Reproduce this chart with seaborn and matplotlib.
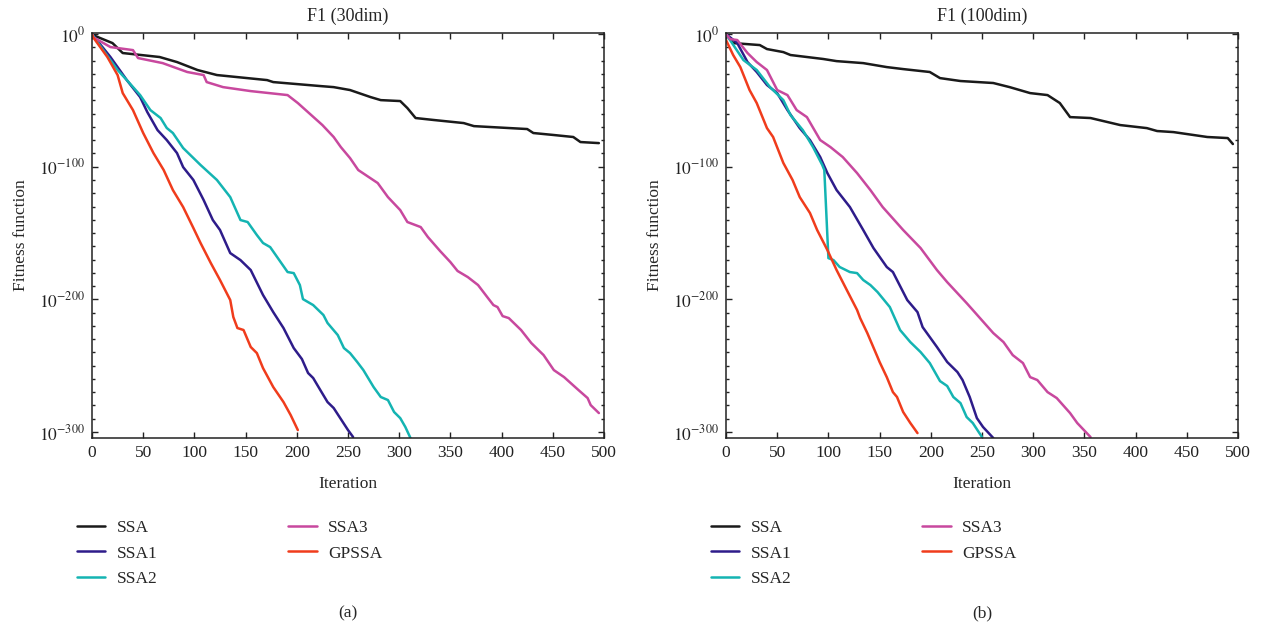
import matplotlib
matplotlib.use("Agg")
import matplotlib.pyplot as plt
import numpy as np
import pandas as pd
import seaborn as sns
from matplotlib.ticker import FixedLocator, NullFormatter

# convergence curves as (iteration, log10 fitness)
algorithms = ["SSA", "SSA1", "SSA2", "SSA3", "GPSSA"]
colors = ["#1a1a1a", "#2e1c8a", "#14b4b2", "#c8489e", "#f03c1c"]

# ---- (a) F1, 30 dim ----
ssa_30_it = [0, 1, 20, 30, 66, 83, 103, 122, 171, 177, 223, 236, 252, 272, 282, 301,
             308, 316, 334, 363, 373, 425, 431, 451, 470, 477, 495]
ssa_30_lg = [0, -0.8, -6.8, -14.3, -17.3, -21.1, -27.1, -30.9, -34.7, -36.2, -39.2, -40,
             -42.2, -47.5, -49.8, -50.5, -55.8, -63.3, -64.8, -67.1, -69.4, -71.6, -74.6,
             -76.1, -77.6, -81.4, -82.2]
ssa1_30_it = [0, 18, 34, 47, 54, 64, 73, 83, 89, 99, 109, 118, 125, 135, 145, 155, 167,
              177, 187, 197, 205, 211, 216, 223, 230, 236, 250, 255]
ssa1_30_lg = [0, -17.3, -34.7, -47.5, -58.8, -72.4, -79.9, -89.7, -100.3, -110, -125.1,
              -140.2, -147.7, -165.1, -170.4, -177.9, -196.7, -209.6, -221.6, -236.7,
              -245, -255.5, -259.3, -268.4, -277.4, -281.9, -298.5, -303.8]
ssa2_30_it = [0, 11, 25, 34, 47, 57, 67, 73, 79, 89, 106, 122, 135, 145, 152, 161, 167,
              174, 191, 197, 203, 206, 216, 226, 230, 240, 246, 252, 259, 265, 275, 282,
              289, 295, 301, 306, 311]
ssa2_30_lg = [0, -12.1, -27.1, -34.7, -46, -57.3, -63.3, -70.8, -74.6, -85.9, -98.7,
              -110, -122.9, -140.2, -141.7, -151.5, -157.5, -160.6, -179.4, -180.2,
              -189.2, -199.8, -204.3, -211.8, -217.8, -226.9, -236.7, -240.5, -247.2,
              -253.3, -266.1, -273.6, -275.9, -284.9, -289.5, -296.2, -304.5]
ssa3_30_it = [0, 1, 18, 40, 45, 69, 93, 109, 112, 128, 155, 191, 201, 213, 225, 236, 243,
              252, 260, 279, 289, 301, 308, 321, 328, 340, 350, 357, 367, 377, 386, 392,
              396, 401, 407, 419, 429, 441, 451, 461, 475, 484, 487, 495]
ssa3_30_lg = [0, -2.3, -9.8, -12.1, -18.1, -21.9, -28.6, -30.9, -36.2, -40, -43, -46,
              -52, -60.3, -68.6, -77.6, -85.2, -93.5, -102.5, -112.3, -122.9, -132.7,
              -141.7, -145.5, -153, -163.6, -171.9, -178.6, -183.2, -189.2, -198.3,
              -204.3, -205.8, -212.6, -214.1, -223.1, -232.9, -242, -253.3, -258.6,
              -268.3, -274.4, -279.7, -285.7]
gpssa_30_it = [0, 1, 15, 25, 30, 40, 50, 60, 70, 79, 89, 99, 106, 116, 125, 135, 138,
               142, 148, 155, 161, 167, 177, 187, 194, 201]
gpssa_30_lg = [0, -2.3, -17.3, -30.9, -44.5, -57.3, -74.6, -89.7, -102.5, -117.6, -130.4,
               -146.2, -157.5, -172.6, -185.4, -200.5, -213.3, -221.6, -223.1, -235.9,
               -240.5, -251.8, -266.1, -277.4, -287.2, -298.5]

# ---- (b) F1, 100 dim ----
ssa_100_it = [0, 1, 7, 33, 40, 56, 63, 79, 95, 108, 134, 157, 173, 199, 209, 229, 261,
              277, 297, 314, 326, 336, 356, 385, 411, 421, 437, 470, 490, 495]
ssa_100_lg = [0, -0.8, -6.8, -8.3, -11.3, -13.6, -15.8, -17.3, -18.8, -20.4, -21.9,
              -24.9, -26.4, -28.6, -33.2, -35.4, -36.9, -40, -44.5, -46, -52, -62.6,
              -63.3, -68.6, -70.9, -73.1, -73.9, -77.6, -78.4, -82.9]
ssa1_100_it = [0, 11, 21, 30, 40, 50, 60, 72, 82, 92, 99, 108, 121, 134, 144, 157, 163,
               177, 187, 192, 206, 216, 226, 231, 238, 245, 251, 261]
ssa1_100_lg = [0, -6.8, -21.1, -28.6, -38.4, -44.5, -57.3, -70.9, -79.9, -92.7, -104.8,
               -117.6, -130.4, -147.7, -161.3, -175.6, -179.4, -200.5, -209.6, -220.9,
               -235.9, -247.2, -254.8, -260.8, -273.6, -289.5, -296.2, -304.5]
ssa2_100_it = [0, 17, 30, 43, 56, 63, 75, 85, 94, 96, 100, 105, 111, 121, 128, 134, 141,
               148, 160, 170, 180, 190, 199, 209, 216, 222, 229, 235, 241, 250]
ssa2_100_lg = [0, -19.6, -27.1, -40, -49.8, -61.1, -72.4, -85.2, -98.7, -102.5, -168.9,
               -170.4, -175.6, -179.4, -180.2, -185.4, -189.2, -194.5, -205.8, -223.1,
               -232.2, -239.7, -248, -261.6, -265.3, -273.6, -278.2, -288.7, -293.2,
               -303.8]
ssa3_100_it = [0, 4, 11, 21, 30, 40, 50, 60, 69, 79, 92, 102, 114, 128, 141, 153, 167,
               173, 190, 206, 216, 235, 241, 248, 261, 271, 280, 290, 297, 304, 314, 323,
               336, 343, 356]
ssa3_100_lg = [0, -3.8, -4.5, -14.3, -21.1, -27.1, -42.2, -46, -57.3, -62.6, -79.9,
               -85.2, -92.7, -104.8, -117.6, -130.4, -142.5, -147.7, -161.3, -177.9,
               -187, -202.8, -208, -214.1, -225.4, -232.2, -242, -248, -258.6, -260.8,
               -269.9, -274.4, -285.7, -293.2, -303.8]
gpssa_100_it = [0, 7, 14, 23, 30, 40, 46, 56, 65, 72, 82, 89, 99, 108, 118, 128, 131,
                138, 148, 150, 157, 163, 167, 173, 180, 187]
gpssa_100_lg = [-4.5, -15.8, -24.9, -42.2, -52, -70.9, -77.6, -97.2, -110, -122.9,
                -134.9, -147.7, -162.8, -177.9, -193, -208, -214.1, -225.4, -243.5,
                -247.2, -258.6, -269.9, -273.6, -284.9, -293.2, -300.8]

panels = [
    ("F1 (30dim)", "(a)",
     [(ssa_30_it, ssa_30_lg), (ssa1_30_it, ssa1_30_lg), (ssa2_30_it, ssa2_30_lg),
      (ssa3_30_it, ssa3_30_lg), (gpssa_30_it, gpssa_30_lg)]),
    ("F1 (100dim)", "(b)",
     [(ssa_100_it, ssa_100_lg), (ssa1_100_it, ssa1_100_lg), (ssa2_100_it, ssa2_100_lg),
      (ssa3_100_it, ssa3_100_lg), (gpssa_100_it, gpssa_100_lg)]),
]


def to_frame(curves):
    parts = []
    for name, (it, lg) in zip(algorithms, curves):
        parts.append(pd.DataFrame({"Iteration": it,
                                   "Fitness": 10.0 ** np.array(lg, dtype=float),
                                   "Algorithm": name}))
    return pd.concat(parts, ignore_index=True)


sns.set_style("ticks")
plt.rcParams["font.family"] = ["Liberation Serif", "DejaVu Serif"]
plt.rcParams["mathtext.fontset"] = "stix"
plt.rcParams["font.size"] = 12.5

W, H = 1261, 631
fig = plt.figure(figsize=(W / 100, H / 100), dpi=100)
lefts = [92, 726]
palette = dict(zip(algorithms, colors))

for (title, tag, curves), lx in zip(panels, lefts):
    ax = fig.add_axes([lx / W, 1 - 438 / H, 512 / W, 405 / H])
    df = to_frame(curves)
    sns.lineplot(data=df, x="Iteration", y="Fitness", hue="Algorithm",
                 palette=palette, hue_order=algorithms, estimator=None,
                 sort=False, linewidth=1.8, ax=ax)
    ax.set_yscale("log")
    ax.set_xlim(0, 500)
    ax.set_ylim(10.0 ** -304.5, 10.0 ** 0.8)
    ax.set_xticks(range(0, 501, 50))
    ax.set_yticks([1.0, 1e-100, 1e-200, 1e-300])
    ax.set_yticklabels([r"$10^{0}$", r"$10^{-100}$", r"$10^{-200}$", r"$10^{-300}$"])
    ax.yaxis.set_minor_locator(FixedLocator([10.0 ** -k for k in range(0, 301, 10)]))
    ax.yaxis.set_minor_formatter(NullFormatter())
    ax.tick_params(which="both", direction="in", top=True, right=True,
                   labelsize=12.5, colors="#222222", width=1.0)
    ax.tick_params(which="major", length=4, pad=5)
    ax.tick_params(which="minor", length=2.5)
    for sp in ax.spines.values():
        sp.set_visible(True)
        sp.set_linewidth(1.1)
        sp.set_color("#222222")
    ax.set_title(title, fontsize=13, pad=9)
    ax.set_xlabel("Iteration", fontsize=12.5, labelpad=11)
    ax.set_ylabel("Fitness function", fontsize=12.5, labelpad=7)
    handles, labels = ax.get_legend_handles_labels()
    ax.get_legend().remove()
    fig.legend(handles, labels, loc="upper left", ncol=2, frameon=False,
               bbox_to_anchor=((lx - 24) / W, 1 - 511 / H), borderpad=0,
               handlelength=1.65, handletextpad=0.65, columnspacing=7.55,
               labelspacing=0.55, fontsize=12.5)
    fig.text((lx + 256) / W, 1 - 613 / H, tag, ha="center", va="center", fontsize=12.5)

fig.savefig("out.png", dpi=100)
